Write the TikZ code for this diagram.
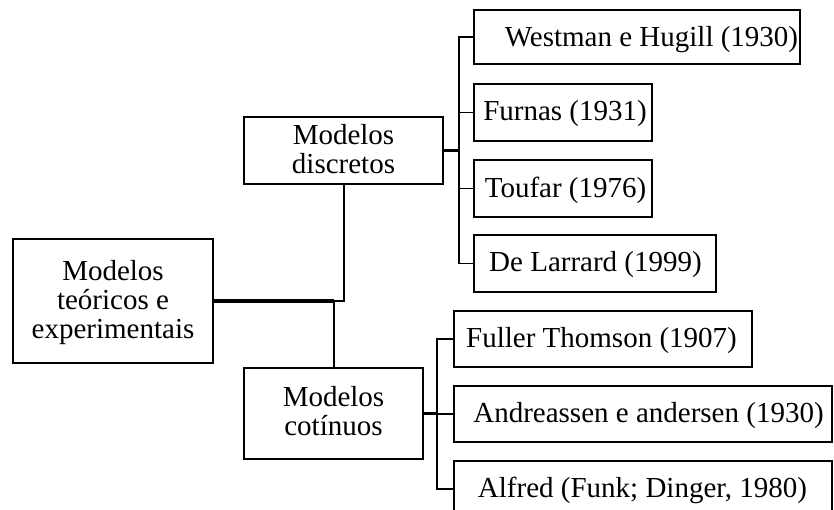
\documentclass[tikz,border=0pt]{standalone}
\usepackage{fontspec}
\setmainfont{Liberation Serif}
\begin{document}
\begin{tikzpicture}[x=1pt,y=-1pt,
  box/.style={draw=black,line width=1.9pt,rectangle,inner sep=0pt},
  txt/.style={font=\fontsize{29}{29}\selectfont,inner sep=0pt,anchor=base},
  mtxt/.style={font=\fontsize{29}{29}\selectfont,inner sep=0pt,align=center},
  conn/.style={line width=1.9pt,line join=miter},
  thickconn/.style={line width=3.2pt}]
\useasboundingbox (0,0) rectangle (834,510);
% boxes
\node[box,minimum width=200pt,minimum height=124pt] (root) at (113,301) {};
\node[box,minimum width=199pt,minimum height=67pt] (disc) at (343.5,150.5) {};
\node[box,minimum width=179pt,minimum height=91pt] (cont) at (333.5,413.5) {};
\node[box,minimum width=326pt,minimum height=54pt] (west) at (637,37) {};
\node[box,minimum width=178pt,minimum height=57pt] (furn) at (563,112.5) {};
\node[box,minimum width=178pt,minimum height=57pt] (touf) at (563,188.5) {};
\node[box,minimum width=242pt,minimum height=57pt] (larr) at (595,263.5) {};
\node[box,minimum width=298pt,minimum height=56pt] (full) at (603,339) {};
\node[box,minimum width=378pt,minimum height=56pt] (andr) at (643,414) {};
\node[box,minimum width=378pt,minimum height=56pt] (alfr) at (643,489) {};
% texts
\node[mtxt] (troot) at (113,303) {Modelos\\teóricos e\\experimentais};
\node[mtxt] (tdisc) at (343.5,149) {Modelos\\discretos};
\node[mtxt] (tcont) at (333.5,411.5) {Modelos\\cotínuos};
\node[txt] (twest) at (651.5,47) {Westman e Hugill (1930)};
\node[txt] (tfurn) at (565,121) {Furnas (1931)};
\node[txt] (ttouf) at (565.5,198) {Toufar (1976)};
\node[txt] (tlarr) at (595.5,272) {De Larrard (1999)};
\node[txt] (tfull) at (601.5,347) {Fuller Thomson (1907)};
\node[txt] (tandr) at (648.5,422) {Andreassen e andersen (1930)};
\node[txt] (talfr) at (642.5,497) {Alfred (Funk; Dinger, 1980)};
% root connectors
\coordinate (j1) at (334,301);
\coordinate (j2) at (344,301);
\draw[thickconn] (root.east) -- (j1);
\draw[conn] (j1) -- (j2) -- (disc.south -| j2);
\draw[conn] (j1) -- (j1 |- cont.north);
% discretos bus
\coordinate (b1) at (459,150.5);
\draw[thickconn] (disc.east) -- (b1);
\draw[conn] (west.west) -| (b1) |- (larr.west);
\draw[conn] (b1 |- furn.west) -- (furn.west);
\draw[conn] (b1 |- touf.west) -- (touf.west);
% continuos bus
\coordinate (b2) at (437,413.5);
\draw[thickconn] (cont.east) -- (b2);
\draw[conn] (full.west) -| (b2) |- (alfr.west);
\draw[conn] (b2 |- andr.west) -- (andr.west);
\end{tikzpicture}
\end{document}
